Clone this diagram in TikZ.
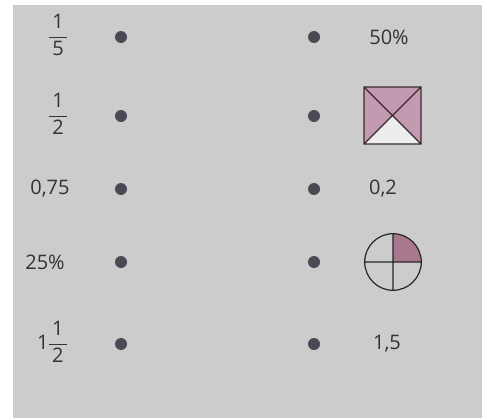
\documentclass[tikz,border=0pt]{standalone}
\usepackage{fontspec}
\setmainfont{Open Sans}
\usepackage{xcolor}
\usetikzlibrary{calc,positioning}
\definecolor{sheet}{HTML}{CCCCCC}
\definecolor{dotgray}{HTML}{4A4A55}
\definecolor{mauve}{HTML}{C49AB0}
\definecolor{mauvedark}{HTML}{A8788E}
\definecolor{paleface}{HTML}{EDEDED}
\definecolor{inkline}{HTML}{3A2A30}
\newcommand{\vfrac}[2]{\renewcommand{\arraystretch}{1.1}%
  \begin{tabular}{@{\,}c@{\,}}#1\\\hline #2\end{tabular}}

\begin{document}
\begin{tikzpicture}[
    x=0.5pt, y=-0.5pt,
    every node/.style={font=\fontsize{10}{12}\selectfont, text=black!80},
    pin/.style={circle, fill=dotgray, inner sep=0pt, minimum size=6pt}
  ]
  % page and panel
  \fill[white] (0,0) rectangle (482,418);
  \useasboundingbox (0,0) rectangle (482,418);
  \fill[sheet] (13,5) rectangle (482,418);

  % left column
  \node (l1) at (58,37) {\vfrac{1}{5}};
  \node (l2) at (58,116) {\vfrac{1}{2}};
  \node (l3) at (50,189) {0,75};
  \node (l4) at (45,262) {25\%};
  \node (l5) at (52,344) {1\vfrac{1}{2}};

  % dots
  \foreach \row/\yy in {1/37,2/116,3/189,4/262,5/344} {
    \node[pin] (a\row) at (121,\yy) {};
    \node[pin] (b\row) at (314,\yy) {};
  }

  % right column
  \node (r1) at (389,37) {50\%};
  \node (r3) at (383,189) {0,2};
  \node (r5) at (387,344) {1,5};

  % square split by its diagonals
  \coordinate (sq) at (392.5,115.5);
  \fill[paleface] ($(sq)+(-28.5,28.5)$) -- (sq) -- ($(sq)+(28.5,28.5)$) -- cycle;
  \fill[mauve] ($(sq)+(-28.5,28.5)$) -- (sq) -- ($(sq)+(28.5,28.5)$)
    -- ($(sq)+(28.5,-28.5)$) -- ($(sq)+(-28.5,-28.5)$) -- cycle;
  \draw[inkline, line width=0.6pt] ($(sq)+(-28.5,-28.5)$) rectangle ($(sq)+(28.5,28.5)$)
    ($(sq)+(-28.5,-28.5)$) -- ($(sq)+(28.5,28.5)$)
    ($(sq)+(28.5,-28.5)$) -- ($(sq)+(-28.5,28.5)$);

  % circle in quarters
  \coordinate (ci) at (393,262);
  \fill[mauvedark] (ci) -- ($(ci)+(28.3,0)$) arc[start angle=0, end angle=90, radius=14.15pt] -- cycle;
  \draw[black!85, line width=0.6pt] (ci) circle[radius=14.15pt]
    ($(ci)+(-28.3,0)$) -- ($(ci)+(28.3,0)$)
    ($(ci)+(0,-28.3)$) -- ($(ci)+(0,28.3)$);
\end{tikzpicture}
\end{document}
